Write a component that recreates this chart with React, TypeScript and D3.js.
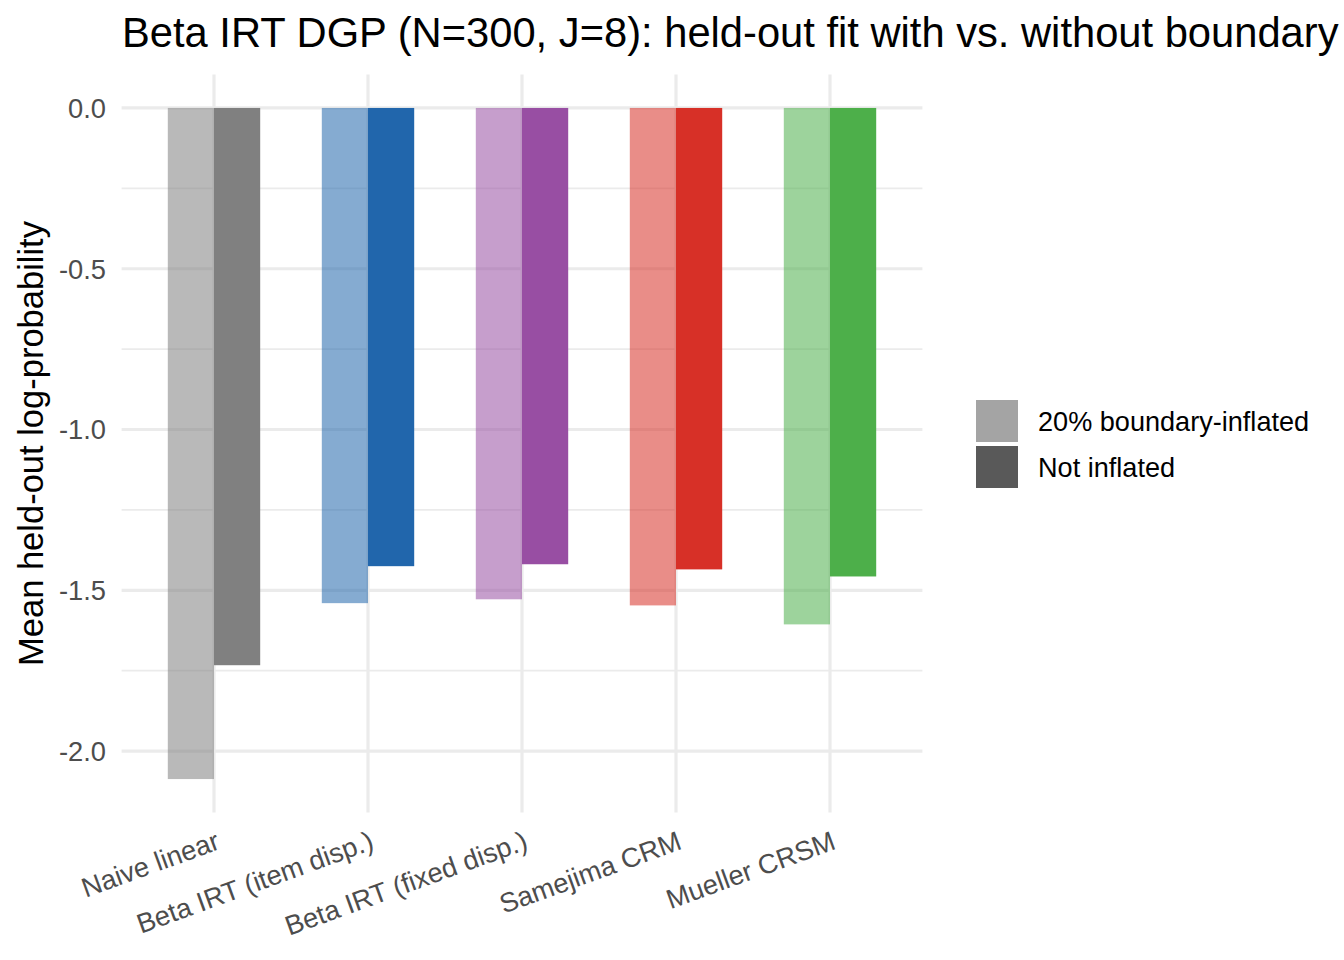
import React from "react";
import * as d3 from "d3";

const categories = [
  "Naive linear",
  "Beta IRT (item disp.)",
  "Beta IRT (fixed disp.)",
  "Samejima CRM",
  "Mueller CRSM",
];
const inflatedValues = [-2.087, -1.54, -1.528, -1.547, -1.606];
const notInflatedValues = [-1.733, -1.425, -1.419, -1.435, -1.457];
const modelColors = ["#808080", "#2166AC", "#984EA3", "#D73027", "#4DAF4A"];
const yTicks = [0, -0.5, -1.0, -1.5, -2.0];
const yMinorTicks = [-0.25, -0.75, -1.25, -1.75];
const legendLabels = ["20% boundary-inflated", "Not inflated"];

const W = 1344;
const H = 960;
const FONT = "'Liberation Sans', Arial, Helvetica, sans-serif";

export default function App() {
  const panel = { left: 121.6, right: 922.4, top: 74.4, bottom: 812.6 };
  const yMin = d3.min([...inflatedValues, ...notInflatedValues]) as number;
  const pad = 0.05 * (0 - yMin);
  const y = d3
    .scaleLinear()
    .domain([yMin - pad, 0 + pad])
    .range([panel.bottom, panel.top]);
  const x = d3
    .scalePoint<string>()
    .domain(categories)
    .range([panel.left, panel.right])
    .padding(0.6);
  const step = x.step();
  const barW = step * 0.3;

  return (
    <svg
      width={W}
      height={H}
      style={{ position: "absolute", left: 0, top: 0, background: "#fff" }}
      fontFamily={FONT}
    >
      <rect x={0} y={0} width={W} height={H} fill="#fff" />
      {/* minor grid */}
      {yMinorTicks.map((t) => (
        <line
          key={"m" + t}
          x1={panel.left}
          x2={panel.right}
          y1={y(t)}
          y2={y(t)}
          stroke="#EBEBEB"
          strokeWidth={1.7}
        />
      ))}
      {/* major grid */}
      {yTicks.map((t) => (
        <line
          key={"M" + t}
          x1={panel.left}
          x2={panel.right}
          y1={y(t)}
          y2={y(t)}
          stroke="#EBEBEB"
          strokeWidth={3.2}
        />
      ))}
      {categories.map((c) => (
        <line
          key={"v" + c}
          x1={x(c)}
          x2={x(c)}
          y1={panel.top}
          y2={panel.bottom}
          stroke="#EBEBEB"
          strokeWidth={3.2}
        />
      ))}
      {/* bars */}
      {categories.map((c, i) => {
        const cx = x(c) as number;
        const v1 = inflatedValues[i];
        const v2 = notInflatedValues[i];
        return (
          <g key={"b" + c}>
            <rect
              x={cx - barW}
              y={y(0)}
              width={barW}
              height={y(v1) - y(0)}
              fill={modelColors[i]}
              fillOpacity={0.55}
            />
            <rect
              x={cx}
              y={y(0)}
              width={barW}
              height={y(v2) - y(0)}
              fill={modelColors[i]}
            />
          </g>
        );
      })}
      {/* y tick labels */}
      {yTicks.map((t) => (
        <text
          key={"yt" + t}
          x={106}
          y={y(t)}
          dy="0.36em"
          textAnchor="end"
          fontSize={27.3}
          fill="#4D4D4D"
        >
          {d3.format(".1f")(t).replace("−", "-")}
        </text>
      ))}
      {/* x tick labels */}
      {categories.map((c) => (
        <text
          key={"xt" + c}
          transform={`translate(${(x(c) as number) + 0.5},830) rotate(-20)`}
          dy="0.72em"
          textAnchor="end"
          fontSize={27.3}
          fill="#4D4D4D"
        >
          {c}
        </text>
      ))}
      {/* y axis title */}
      <text
        transform={`translate(43,${(panel.top + panel.bottom) / 2}) rotate(-90)`}
        textAnchor="middle"
        fontSize={34.5}
        fill="#000"
      >
        Mean held-out log-probability
      </text>
      {/* title */}
      <text x={122} y={47} fontSize={41.7} fill="#000">
        Beta IRT DGP (N=300, J=8): held-out fit with vs. without boundary
      </text>
      {/* legend */}
      {legendLabels.map((l, i) => (
        <g key={"lg" + l} transform={`translate(976,${400 + i * 46})`}>
          <rect
            x={0}
            y={0}
            width={42}
            height={42}
            fill="#595959"
            fillOpacity={i === 0 ? 0.55 : 1}
          />
          <text x={62} y={21} dy="0.36em" fontSize={27.1} fill="#000">
            {l}
          </text>
        </g>
      ))}
    </svg>
  );
}
